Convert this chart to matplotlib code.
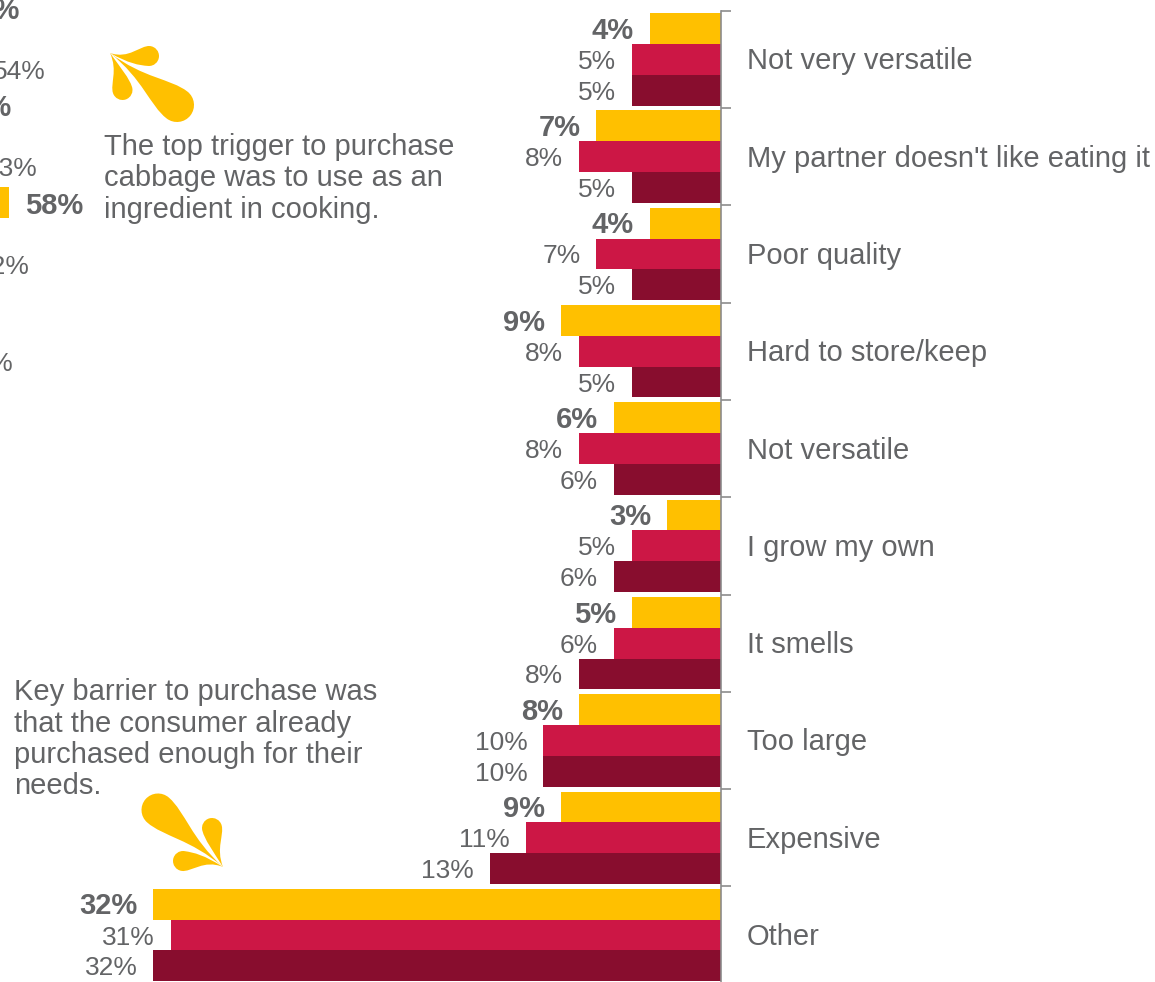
import numpy as np
import matplotlib
matplotlib.use('Agg')
import matplotlib.pyplot as plt
from matplotlib.path import Path
from matplotlib.patches import PathPatch
from matplotlib.transforms import ScaledTranslation

plt.rcParams['font.family'] = ['Liberation Sans', 'DejaVu Sans']

categories = ['Not very versatile', "My partner doesn't like eating it", 'Poor quality',
              'Hard to store/keep', 'Not versatile', 'I grow my own', 'It smells',
              'Too large', 'Expensive', 'Other']
latest = [4, 7, 4, 9, 6, 3, 5, 8, 9, 32]
previous = [5, 8, 7, 8, 8, 5, 6, 10, 11, 31]
oldest = [5, 5, 5, 5, 6, 6, 8, 10, 13, 32]

# triggers chart, runs off the left edge
trigger_latest = [50, 49, 58]
trigger_oldest = [54, 53, 52, 50]

note_trigger = 'The top trigger to purchase\ncabbage was to use as an\ningredient in cooking.'
note_barrier = 'Key barrier to purchase was\nthat the consumer already\npurchased enough for their\nneeds.'

YELLOW = '#FFC000'
RED = '#CC1745'
DARK = '#880D2E'
GREY = '#636466'
AXIS = '#8C8C8C'

W, H = 1155, 982
BAR = 0.3165
STEP = 97.3


def drop_path(tip, center, r, bend=0.0, waist=0.0, neck=0.5, swell=0.25):
    tip = np.array(tip, dtype=float)
    c = np.array(center, dtype=float)
    d = np.linalg.norm(c - tip)
    u = (c - tip) / d
    n = np.array([-u[1], u[0]])
    k = 0.5523 * r
    mid = tip + u * d * neck + n * bend
    verts = [tip,
             mid + n * waist, c + n * r - u * d * swell, c + n * r,
             c + n * r + u * k, c + u * r + n * k, c + u * r,
             c + u * r - n * k, c - n * r + u * k, c - n * r,
             c - n * r - u * d * swell, mid - n * waist, tip,
             tip]
    codes = [Path.MOVETO] + [Path.CURVE4] * 12 + [Path.CLOSEPOLY]
    return Path(verts, codes)


def splash(ax, tip, petals):
    # three petals fanning out of one point
    for center, r, bend, waist in petals:
        ax.add_patch(PathPatch(drop_path(tip, center, r, bend, waist), fc=YELLOW, ec='none'))


fig = plt.figure(figsize=(W / 100, H / 100), dpi=100)

# main chart
top = 10.7
height = STEP * len(categories)
ax = fig.add_axes([0, 1 - (top + height) / H, 720.5 / W, height / H])
y = np.arange(len(categories))
ax.barh(y - BAR, latest, BAR, color=YELLOW)
ax.barh(y, previous, BAR, color=RED)
ax.barh(y + BAR, oldest, BAR, color=DARK)
ax.set_xlim(720.5 / 17.72, 0)
ax.set_ylim(len(categories) - 0.5, -0.5)

for i in y:
    ax.text(latest[i] + 0.9, i - BAR - 0.008, f'{latest[i]}%', ha='right', va='center_baseline',
            fontsize=21, fontweight='bold', color=GREY)
    ax.text(previous[i] + 0.9, i, f'{previous[i]}%', ha='right', va='center_baseline',
            fontsize=19, color=GREY)
    ax.text(oldest[i] + 0.9, i + BAR, f'{oldest[i]}%', ha='right', va='center_baseline',
            fontsize=19, color=GREY)

for side in ['left', 'top', 'bottom']:
    ax.spines[side].set_visible(False)
ax.spines['right'].set_color(AXIS)
ax.spines['right'].set_linewidth(1.2)
ax.xaxis.set_visible(False)
ax.yaxis.tick_right()
ax.set_yticks(y, categories, fontsize=21, color=GREY, va='center_baseline')
ax.set_yticks(y - 0.5, minor=True)
ax.tick_params(axis='y', which='major', length=0, pad=19)
ax.tick_params(axis='y', which='minor', length=7, width=1.2, color=AXIS)
ax.patch.set_alpha(0)
lift = ScaledTranslation(0, 1 / 100, fig.dpi_scale_trans)
for lbl in ax.get_yticklabels():
    lbl.set_transform(lbl.get_transform() + lift)

# the other chart, only its bar ends and labels reach into view
ax2 = fig.add_axes([0, 0, 100 / W, 1])
ax2.set_xlim(56.875, 69.375)
ax2.set_ylim((982 - 38.7) / STEP, -38.7 / STEP)
ax2.axis('off')
ax2.barh(np.arange(len(trigger_latest)) - BAR, trigger_latest, BAR, color=YELLOW)
for i, v in enumerate(trigger_latest):
    ax2.text(v + 2, i - BAR, f'{v}%', ha='left', va='center_baseline', fontsize=21,
             fontweight='bold', color=GREY)
for i, v in enumerate(trigger_oldest):
    ax2.text(v + 2, i + BAR, f'{v}%', ha='left', va='center_baseline', fontsize=19, color=GREY)

# callouts, in pixel coordinates
over = fig.add_axes([0, 0, 1, 1])
over.set_xlim(0, W)
over.set_ylim(H, 0)
over.axis('off')
splash(over, (110, 53), [((177, 105), 17, 0, 0.5),
                         ((149, 56), 10, 7, 2),
                         ((122.5, 90), 10, -4, 2)])
splash(over, (223, 867), [((158, 810), 16.5, 0, 0.5),
                          ((183, 861), 10, 7, 2),
                          ((212, 828), 10, -4, 2)])
over.text(104, 133, note_trigger, fontsize=21, color=GREY, va='top', linespacing=1.15)
over.text(14, 678.5, note_barrier, fontsize=21, color=GREY, va='top', linespacing=1.15)

fig.savefig('out.png', dpi=100)
